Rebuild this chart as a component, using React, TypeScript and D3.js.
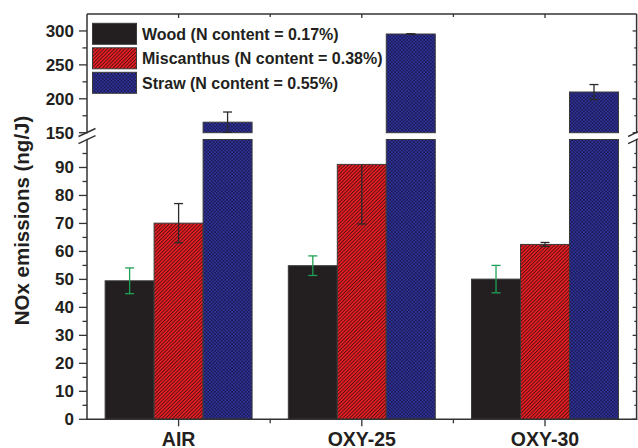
import { useEffect, useRef } from 'react';
import * as d3 from 'd3';

const categories = ['AIR', 'OXY-25', 'OXY-30'];
const seriesNames = [
  'Wood (N content = 0.17%)',
  'Miscanthus (N content = 0.38%)',
  'Straw (N content = 0.55%)',
];
const woodValues = [49.5, 54.9, 50.1];
const woodErrors = [4.6, 3.5, 4.9];
const miscanthusValues = [70.1, 91.1, 62.5];
const miscanthusErrors = [7.0, 21.3, 0.7];
const strawValues = [165.5, 295.5, 210];
const strawErrors = [15, 0.4, 11];
const lowerTickValues = [0, 10, 20, 30, 40, 50, 60, 70, 80, 90];
const upperTickValues = [150, 200, 250, 300];

const WIDTH = 638;
const HEIGHT = 448;
const FONT = "'Liberation Sans', Arial, Helvetica, sans-serif";
const AXIS = '#333333';

const left = 87;
const right = 636.6;
const top = 14;
const bottom = 419.3;
const breakTop = 132.7;
const breakBottom = 139.5;

export default function App() {
  const svgRef = useRef<SVGSVGElement>(null);

  useEffect(() => {
    if (!svgRef.current) return;
    const svg = d3.select(svgRef.current);
    svg.selectAll('*').remove();

    const series = [
      { name: seriesNames[0], values: woodValues, errors: woodErrors, fill: '#231f20', err: '#1fa055' },
      { name: seriesNames[1], values: miscanthusValues, errors: miscanthusErrors, fill: 'url(#hatch)', err: '#2a2a2a' },
      { name: seriesNames[2], values: strawValues, errors: strawErrors, fill: 'url(#cross)', err: '#2a2a2a' },
    ];

    const x = d3.scaleBand<string>().domain(categories).range([left, right]);
    const xInner = d3
      .scaleBand<string>()
      .domain(seriesNames)
      .range([0, x.bandwidth()])
      .paddingInner(0)
      .paddingOuter(0.37);
    const yLow = d3.scaleLinear().domain([0, 100]).range([bottom, breakBottom]);
    const yHigh = d3.scaleLinear().domain([150, 325]).range([breakTop, top]);

    const defs = svg.append('defs');
    const hatch = defs
      .append('pattern')
      .attr('id', 'hatch')
      .attr('width', 2.5)
      .attr('height', 2.5)
      .attr('patternUnits', 'userSpaceOnUse')
      .attr('patternTransform', 'rotate(45)');
    hatch.append('rect').attr('width', 2.5).attr('height', 2.5).attr('fill', '#ee1f26');
    hatch
      .append('line')
      .attr('x1', 0.5).attr('y1', 0).attr('x2', 0.5).attr('y2', 2.5)
      .attr('stroke', '#4a0d0d')
      .attr('stroke-width', 0.9);

    const cross = defs
      .append('pattern')
      .attr('id', 'cross')
      .attr('width', 3.4)
      .attr('height', 3.4)
      .attr('patternUnits', 'userSpaceOnUse');
    cross.append('rect').attr('width', 3.4).attr('height', 3.4).attr('fill', '#30329e');
    cross.append('rect').attr('width', 1.7).attr('height', 1.7).attr('fill', '#1c1c52');
    cross.append('rect').attr('x', 1.7).attr('y', 1.7).attr('width', 1.7).attr('height', 1.7).attr('fill', '#1c1c52');

    // bars
    const bars = svg.append('g');
    series.forEach((s) => {
      s.values.forEach((v, i) => {
        const bx = (x(categories[i]) ?? 0) + (xInner(s.name) ?? 0);
        const bw = xInner.bandwidth();
        bars
          .append('rect')
          .attr('x', bx)
          .attr('y', yLow(Math.min(v, 100)))
          .attr('width', bw)
          .attr('height', yLow(0) - yLow(Math.min(v, 100)))
          .attr('fill', s.fill)
          .attr('stroke', '#3a3a3a')
          .attr('stroke-width', 1);
        if (v > 150) {
          bars
            .append('rect')
            .attr('x', bx)
            .attr('y', yHigh(v))
            .attr('width', bw)
            .attr('height', yHigh(150) - yHigh(v))
            .attr('fill', s.fill)
            .attr('stroke', '#3a3a3a')
            .attr('stroke-width', 1);
        }
      });
    });

    // error bars
    const errs = svg.append('g').attr('stroke-width', 1.3).attr('fill', 'none');
    const cap = 4.5;
    series.forEach((s) => {
      s.values.forEach((v, i) => {
        const cx = (x(categories[i]) ?? 0) + (xInner(s.name) ?? 0) + xInner.bandwidth() / 2;
        const e = s.errors[i];
        const lo = v - e;
        const hi = v + e;
        const parts: [number, number, boolean, boolean][] = [];
        if (v <= 100) {
          // upper whisker is dropped when it would run into the break
          if (hi > 100) parts.push([yLow(lo), yLow(v), true, false]);
          else parts.push([yLow(lo), yLow(hi), true, true]);
        } else if (v > 150) {
          parts.push([yHigh(Math.max(lo, 150)), yHigh(hi), lo >= 150, true]);
        }
        parts.forEach(([y0, y1, capLo, capHi]) => {
          errs.append('line').attr('x1', cx).attr('x2', cx).attr('y1', y0).attr('y2', y1).attr('stroke', s.err);
          if (capLo)
            errs.append('line').attr('x1', cx - cap).attr('x2', cx + cap).attr('y1', y0).attr('y2', y0).attr('stroke', s.err);
          if (capHi)
            errs.append('line').attr('x1', cx - cap).attr('x2', cx + cap).attr('y1', y1).attr('y2', y1).attr('stroke', s.err);
        });
      });
    });

    // frame
    const axes = svg.append('g').attr('stroke', AXIS).attr('stroke-width', 1.5).attr('fill', 'none');
    axes.append('line').attr('x1', left).attr('x2', right).attr('y1', top).attr('y2', top);
    axes.append('line').attr('x1', left - 0.75).attr('x2', right + 0.75).attr('y1', bottom).attr('y2', bottom);
    [left, right].forEach((ax) => {
      axes.append('line').attr('x1', ax).attr('x2', ax).attr('y1', top).attr('y2', breakTop + 1);
      axes.append('line').attr('x1', ax).attr('x2', ax).attr('y1', breakBottom - 1).attr('y2', bottom);
    });

    // y ticks
    const ticks = svg.append('g').attr('stroke', AXIS).attr('stroke-width', 1.3);
    const lowMinor = yLow.ticks(20).filter((t) => t % 10 !== 0);
    const highMinor = [175, 225, 275];
    const drawTick = (y: number, len: number) => {
      ticks.append('line').attr('x1', left - len).attr('x2', left).attr('y1', y).attr('y2', y);
      ticks.append('line').attr('x1', right - len / 2).attr('x2', right).attr('y1', y).attr('y2', y);
    };
    lowerTickValues.forEach((t) => drawTick(yLow(t), 8));
    upperTickValues.forEach((t) => drawTick(yHigh(t), 8));
    lowMinor.forEach((t) => drawTick(yLow(t), 4.5));
    highMinor.forEach((t) => drawTick(yHigh(t), 4.5));

    // x ticks
    categories.forEach((c) => {
      const cx = (x(c) ?? 0) + x.bandwidth() / 2;
      ticks.append('line').attr('x1', cx).attr('x2', cx).attr('y1', bottom).attr('y2', bottom + 7);
      ticks.append('line').attr('x1', cx).attr('x2', cx).attr('y1', top).attr('y2', top + 4);
    });
    categories.slice(1).forEach((c) => {
      const bx = x(c) ?? 0;
      ticks.append('line').attr('x1', bx).attr('x2', bx).attr('y1', bottom).attr('y2', bottom + 4);
      ticks.append('line').attr('x1', bx).attr('x2', bx).attr('y1', top).attr('y2', top + 3);
    });

    // axis breaks
    const mid = (breakTop + breakBottom) / 2;
    [left, right].forEach((ax) => {
      svg
        .append('rect')
        .attr('x', ax - 3)
        .attr('y', breakTop + 0.8)
        .attr('width', 6)
        .attr('height', breakBottom - breakTop - 1.6)
        .attr('fill', '#ffffff');
      [-3.6, 3.6].forEach((dy) => {
        svg
          .append('line')
          .attr('x1', ax - 8.5)
          .attr('y1', mid + dy + 4)
          .attr('x2', ax + 8.5)
          .attr('y2', mid + dy - 4)
          .attr('stroke', AXIS)
          .attr('stroke-width', 1.4);
      });
    });

    // tick labels
    const labels = svg
      .append('g')
      .attr('font-family', FONT)
      .attr('font-weight', 'bold')
      .attr('font-size', 17)
      .attr('fill', '#231f20')
      .attr('text-anchor', 'end');
    lowerTickValues.forEach((t) => labels.append('text').attr('x', 74).attr('y', yLow(t) + 6).text(t));
    upperTickValues.forEach((t) => labels.append('text').attr('x', 74).attr('y', yHigh(t) + 6).text(t));

    svg
      .append('g')
      .attr('font-family', FONT)
      .attr('font-weight', 'bold')
      .attr('font-size', 19.5)
      .attr('fill', '#231f20')
      .attr('text-anchor', 'middle')
      .selectAll('text')
      .data(categories)
      .join('text')
      .attr('x', (c) => (x(c) ?? 0) + x.bandwidth() / 2)
      .attr('y', 445.5)
      .text((c) => c);

    svg
      .append('text')
      .attr('transform', 'translate(28.5,220.5) rotate(-90)')
      .attr('text-anchor', 'middle')
      .attr('font-family', FONT)
      .attr('font-weight', 'bold')
      .attr('font-size', 20.5)
      .attr('fill', '#231f20')
      .text('NOx emissions (ng/J)');

    // legend
    const legend = svg.append('g');
    series.forEach((s, i) => {
      const ly = 23.3 + i * 24.5;
      legend
        .append('rect')
        .attr('x', 92.5)
        .attr('y', ly)
        .attr('width', 44)
        .attr('height', 21)
        .attr('fill', s.fill)
        .attr('stroke', '#3a3a3a')
        .attr('stroke-width', 1);
      legend
        .append('text')
        .attr('x', 142)
        .attr('y', ly + 16.5)
        .attr('font-family', FONT)
        .attr('font-weight', 'bold')
        .attr('font-size', 16)
        .attr('fill', '#231f20')
        .text(s.name);
    });
  }, []);

  return (
    <svg
      ref={svgRef}
      width={WIDTH}
      height={HEIGHT}
      viewBox={`0 0 ${WIDTH} ${HEIGHT}`}
      style={{ position: 'absolute', left: 0, top: 0, background: '#ffffff' }}
    />
  );
}
